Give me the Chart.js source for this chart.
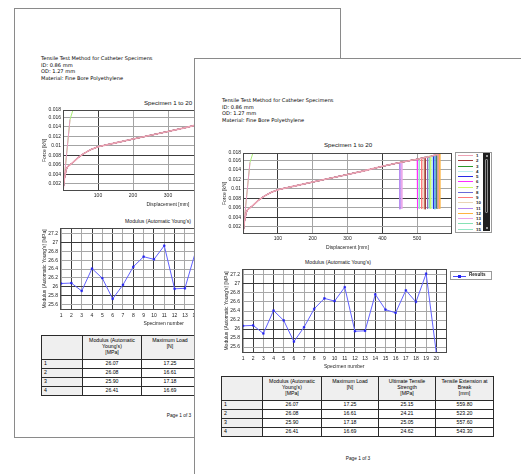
<!DOCTYPE html>
<html>
<head>
<meta charset="utf-8">
<title>Tensile Test Method for Catheter Specimens</title>
<script src="https://cdn.jsdelivr.net/npm/chart.js@4.4.1/dist/chart.umd.min.js"></script>
<style>
  html, body { margin: 0; padding: 0; }
  body { width: 521px; height: 474px; overflow: hidden; position: relative; background: #fff; }
  .page { position: absolute; box-sizing: border-box; background: #fff; border: 1px solid #8a8a8a; overflow: hidden; }
  #backPage { left: 14px; top: 8px; width: 327px; height: 430px; z-index: 1; }
  #frontPage { left: 194px; top: 58px; width: 340px; height: 430px; z-index: 2; }
  .abs { position: absolute; }
  .info { font: 5.1px/6.6px "DejaVu Sans", sans-serif; color: #000; white-space: nowrap; }
  .ctitle { font-family: "Liberation Sans", Arial, sans-serif; color: #111; white-space: nowrap; transform: translate(-50%, -50%); }
  .footer { font: 4.8px "Liberation Sans", Arial, sans-serif; color: #111; white-space: nowrap; transform: translate(-50%, -50%); }
  table.results { border-collapse: collapse; table-layout: fixed; width: 272px;
    font: 5.2px/5.8px "Liberation Sans", Arial, sans-serif; color: #000; }
  table.results td { border: 1px solid #2a2a2a; padding: 0 2px; height: 8px; text-align: center; vertical-align: middle; white-space: nowrap; }
  table.results tr.head td { height: 21px; background: #efefef; vertical-align: top; padding-top: 2px; }
  table.results td.rowName { text-align: left; background: #efefef; }
  .legendBox { border: 1px solid #9a9a9a; background: #fff; box-sizing: border-box; overflow: hidden; }
  .legendRow { position: absolute; left: 1px; height: 5.25px; font: bold 4.4px "Liberation Sans", Arial, sans-serif; color: #222; }
  .legendRow i { position: absolute; left: 1px; top: 2.2px; width: 15px; height: 1px; }
  .legendRow span { position: absolute; left: 19px; top: 0; line-height: 5.25px; }
  .scrollBar { position: absolute; background: #1f1f1f; }
  .scrollThumb { position: absolute; border: 1px solid #8c8c8c; border-radius: 1px; }
  .scrollArrow { position: absolute; width: 2px; height: 2px; background: #9a9a9a; }
</style>
</head>
<body>
<div class="page" id="backPage"></div>
<div class="page" id="frontPage"></div>

<script>
// ---- report header text
const reportInfo = [
  'Tensile Test Method for Catheter Specimens',
  'ID: 0.86 mm',
  'OD: 1.27 mm',
  'Material: Fine Bore Polyethylene',
];

// ---- specimens
const specimenLabels = ['1', '2', '3', '4', '5', '6', '7', '8', '9', '10',
  '11', '12', '13', '14', '15', '16', '17', '18', '19', '20'];

const specimenColors = ['#eea2b4', '#a23a3a', '#2a982a', '#b8eeee', '#2828e6', '#ff2cff',
  '#cdfa6a', '#6a6ad8', '#ff7a7a', '#ead4b6', '#b488f2', '#ffb440', '#eaa6ea',
  '#86e2b4', '#94e8c6', '#8a66c8', '#66c4e4', '#e8803c', '#ec98c4', '#a8ee74'];

// shared load / displacement curve (displacement mm, force kN)
const loadCurve = [
  [0, 0.0005], [4, 0.0031], [9, 0.0050], [13, 0.0056], [20, 0.0060], [30, 0.0066],
  [45, 0.0076], [60, 0.0084], [80, 0.0092], [100, 0.0098], [150, 0.0106], [200, 0.0114],
  [250, 0.0122], [300, 0.0130], [350, 0.0138], [400, 0.0147], [450, 0.0155],
  [500, 0.0162], [540, 0.0168],
];

// steep traces of specimens 19 and 20
const steepCurves = {
  19: [[0, 0.0005], [3, 0.0028], [20, 0.0155]],
  20: [[0, 0.0005], [3, 0.0028], [20, 0.0155], [28, 0.0174]],
};

// tensile extension at break [mm] and maximum load [N]
const breakExtension = [559.8, 523.2, 557.6, 543.3, 547, 501, 539, 555, 513, 520,
  450.5, 565, 456, 535, 506, 530, 551, 562, null, null];
const maximumLoad = [17.25, 16.61, 17.18, 16.69, 17.05, 16.30, 16.90, 17.15, 16.45, 16.55,
  15.60, 17.40, 15.70, 16.75, 16.35, 16.80, 16.85, 17.28, null, null];
const loadAfterBreak = [5.8, 5.7, 5.8, 5.9, 5.8, 5.7, 5.8, 5.9, 5.8, 5.7,
  5.7, 5.8, 5.8, 5.9, 5.8, 5.8, 5.7, 5.9, null, null];

// Modulus (Automatic Young's) [MPa]
const modulusValues = [26.07, 26.08, 25.90, 26.41, 26.19, 25.72, 26.04, 26.45, 26.68, 26.62,
  26.93, 25.95, 25.96, 26.77, 26.43, 26.36, 26.86, 26.60, 27.23, 25.47];

const ultimateStrength = [25.15, 24.21, 25.05, 24.62];

// ---- axis ticks
const forceXTicks = [100, 200, 300, 400, 500];
const forceYTicks = [0.002, 0.004, 0.006, 0.008, 0.01, 0.012, 0.014, 0.016, 0.0175];
const forceYLabels = ['0.002', '0.004', '0.006', '0.008', '0.01', '0.012', '0.014', '0.016', '0.018'];
const modulusYTicks = [25.6, 25.8, 26, 26.2, 26.4, 26.6, 26.8, 27, 27.2];
const modulusYLabels = ['25.6', '25.8', '26', '26.2', '26.4', '26.6', '26.8', '27', '27.2'];

const tableHeaders = ['', "Modulus (Automatic<br>Young's)<br>[MPa]", 'Maximum Load<br>[N]',
  'Ultimate Tensile<br>Strength<br>[MPa]', 'Tensile Extension at<br>Break<br>[mm]'];

Chart.defaults.font.family = '"Liberation Sans", Arial, sans-serif';
Chart.defaults.font.size = 5;
Chart.defaults.color = '#1e1e1e';

/**
 * box around the plotting area
 */
const plotFrame = {
  id: 'plotFrame',
  afterDraw(chart) {
    const { ctx, chartArea } = chart;
    const { left, top, right, bottom } = chartArea;
    ctx.save();
    ctx.strokeStyle = '#4a4a4a';
    ctx.lineWidth = 1;
    ctx.strokeRect(Math.round(left) + 0.5, Math.round(top) + 0.5,
      Math.round(right - left) - 1, Math.round(bottom - top) - 1);
    ctx.restore();
  },
};

const toPoints = (pairs) => pairs.map(([x, y]) => ({ x, y }));

function specimenData(i) {
  const id = i + 1;
  if (steepCurves[id]) return toPoints(steepCurves[id]);

  const bx = breakExtension[i];
  const pts = loadCurve.filter(([x]) => x < bx);
  pts.push([bx, maximumLoad[i] / 1000]);
  pts.push([bx, loadAfterBreak[i] / 1000]);
  return toPoints(pts);
}

function makeCanvas(page, origin, box) {
  const canvas = document.createElement('canvas');
  canvas.width = box.w;
  canvas.height = box.h;
  canvas.className = 'abs';
  canvas.style.left = box.x - origin.x + 'px';
  canvas.style.top = box.y - origin.y + 'px';
  canvas.style.width = box.w + 'px';
  canvas.style.height = box.h + 'px';
  page.appendChild(canvas);
  return canvas.getContext('2d');
}

function fixedWidth(w) {
  return (scale) => { scale.width = w; };
}
function fixedHeight(h) {
  return (scale) => { scale.height = h; };
}

function forceChart(ctx, yWidth, padRight) {
  return new Chart(ctx, {
    type: 'line',
    data: {
      datasets: specimenLabels.map((label, i) => ({
        label,
        data: specimenData(i),
        borderColor: specimenColors[i],
        // specimen 1 sits on top of the common curve
        borderWidth: i === 0 ? 1.6 : 1,
        pointRadius: 0,
        fill: false,
      })),
    },
    options: {
      responsive: false,
      animation: false,
      layout: { padding: { top: 5, right: padRight, left: 0, bottom: 0 } },
      plugins: { legend: { display: false }, tooltip: { enabled: false } },
      scales: {
        x: {
          type: 'linear', min: 0, max: 600,
          afterBuildTicks: (s) => { s.ticks = forceXTicks.map((value) => ({ value })); },
          afterFit: fixedHeight(17),
          ticks: { padding: 2, maxRotation: 0 },
          grid: {
            drawTicks: false,
            color: (c) => (c.tick && (c.tick.value === 100 || c.tick.value === 400) ? '#3c3c3c' : '#a4a4a4'),
          },
          border: { display: false },
          title: { display: true, text: 'Displacement [mm]', padding: 0, font: { size: 5 } },
        },
        y: {
          type: 'linear', min: 0.0005, max: 0.0175,
          afterBuildTicks: (s) => { s.ticks = forceYTicks.map((value) => ({ value })); },
          afterFit: fixedWidth(yWidth),
          ticks: { padding: 2, callback: (v, i) => forceYLabels[i] },
          grid: {
            drawTicks: false,
            color: (c) => (c.tick && (c.tick.value === 0.004 || c.tick.value === 0.008) ? '#3c3c3c' : '#a4a4a4'),
          },
          border: { display: false },
          title: { display: true, text: 'Force [kN]', padding: 0, font: { size: 5 } },
        },
      },
    },
    plugins: [plotFrame],
  });
}

function modulusChart(ctx, yWidth) {
  return new Chart(ctx, {
    type: 'line',
    data: {
      datasets: [{
        label: 'Results',
        data: modulusValues.map((y, i) => ({ x: Number(specimenLabels[i]), y })),
        borderColor: '#6262ff',
        borderWidth: 1,
        pointStyle: 'rect',
        pointRadius: 1.2,
        pointBorderWidth: 0.5,
        pointBackgroundColor: '#2323ee',
        pointBorderColor: '#2323ee',
        fill: false,
      }],
    },
    options: {
      responsive: false,
      animation: false,
      layout: { padding: { top: 5, right: 2, left: 0, bottom: 0 } },
      plugins: { legend: { display: false }, tooltip: { enabled: false } },
      scales: {
        x: {
          type: 'linear', min: 0.9, max: 21,
          afterBuildTicks: (s) => { s.ticks = specimenLabels.map((l) => ({ value: Number(l) })); },
          afterFit: fixedHeight(17),
          ticks: { padding: 3, maxRotation: 0, autoSkip: false },
          grid: {
            drawTicks: false,
            color: (c) => (c.tick && c.tick.value % 2 === 0 ? '#3c3c3c' : '#a8a8a8'),
          },
          border: { display: false },
          title: { display: true, text: 'Specimen number', padding: 0, font: { size: 5 } },
        },
        y: {
          type: 'linear', min: 25.467, max: 27.333,
          afterBuildTicks: (s) => { s.ticks = modulusYTicks.map((value) => ({ value })); },
          afterFit: fixedWidth(yWidth),
          ticks: { padding: 2, callback: (v, i) => modulusYLabels[i] },
          grid: {
            drawTicks: false,
            color: (c) => (c.tick && [27, 26, 25.8].includes(c.tick.value) ? '#3c3c3c' : '#a8a8a8'),
          },
          border: { display: false },
          title: { display: true, text: "Modulus (Automatic Young's) [MPa]", padding: 0, font: { size: 5 } },
        },
      },
    },
    plugins: [plotFrame],
  });
}

function addText(page, origin, cls, x, y, html, extraStyle) {
  const el = document.createElement('div');
  el.className = 'abs ' + cls;
  el.style.left = x - origin.x + 'px';
  el.style.top = y - origin.y + 'px';
  if (extraStyle) Object.assign(el.style, extraStyle);
  el.innerHTML = html;
  page.appendChild(el);
  return el;
}

function addTable(page, origin, x, y) {
  const widths = [41, 59, 57, 57, 58];
  let html = '<colgroup>' + widths.map((w) => `<col style="width:${w}px">`).join('') + '</colgroup>';
  html += '<tr class="head">' + tableHeaders.map((h) => `<td>${h}</td>`).join('') + '</tr>';
  ultimateStrength.forEach((uts, i) => {
    html += '<tr>'
      + `<td class="rowName">${specimenLabels[i]}</td>`
      + `<td>${modulusValues[i].toFixed(2)}</td>`
      + `<td>${maximumLoad[i].toFixed(2)}</td>`
      + `<td>${uts.toFixed(2)}</td>`
      + `<td>${breakExtension[i].toFixed(2)}</td>`
      + '</tr>';
  });
  const table = document.createElement('table');
  table.className = 'abs results';
  table.style.left = x - origin.x + 'px';
  table.style.top = y - origin.y + 'px';
  table.innerHTML = html;
  page.appendChild(table);
}

function addSpecimenLegend(page, origin, x, y, w, h) {
  const box = document.createElement('div');
  box.className = 'abs legendBox';
  Object.assign(box.style, { left: x - origin.x + 'px', top: y - origin.y + 'px', width: w + 'px', height: h + 'px' });

  specimenLabels.forEach((label, i) => {
    const row = document.createElement('div');
    row.className = 'legendRow';
    row.style.top = i * 5.25 + 'px';
    row.innerHTML = `<i style="background:${specimenColors[i]}"></i><span>${label}</span>`;
    box.appendChild(row);
  });

  // scroll bar of the legend list
  const bar = document.createElement('div');
  bar.className = 'scrollBar';
  Object.assign(bar.style, { left: w - 10 + 'px', top: '0px', width: '7px', height: h - 3 + 'px' });
  bar.innerHTML = '<div class="scrollArrow" style="left:2.5px;top:1.5px"></div>'
    + '<div class="scrollThumb" style="left:2px;top:6px;width:1px;height:52px"></div>'
    + `<div class="scrollArrow" style="left:2.5px;top:${h - 7}px"></div>`;
  box.appendChild(bar);
  page.appendChild(box);
}

function addResultsLegend(page, origin, x, y) {
  const box = document.createElement('div');
  box.className = 'abs legendBox';
  Object.assign(box.style, { left: x - origin.x + 'px', top: y - origin.y + 'px', width: '42px', height: '9px' });
  box.innerHTML = '<div style="position:absolute;left:2px;top:3.5px;width:13px;height:1px;background:#4a4aff"></div>'
    + '<div style="position:absolute;left:7px;top:2.5px;width:3px;height:3px;background:#2323ee"></div>'
    + '<div style="position:absolute;left:18px;top:0;line-height:7px;font:bold 4.6px \'Liberation Sans\',Arial,sans-serif;color:#222">Results</div>';
  page.appendChild(box);
}

function buildPage(page, origin, L) {
  addText(page, origin, 'info', L.infoX, L.infoY, reportInfo.join('<br>'));
  addText(page, origin, 'ctitle', L.forceTitle[0], L.forceTitle[1], 'Specimen 1 to 20', { fontSize: '6.2px' });
  forceChart(makeCanvas(page, origin, L.force), 21, 5);
  addText(page, origin, 'ctitle', L.modTitle[0], L.modTitle[1], "Modulus (Automatic Young's)", { fontSize: '5.1px' });
  modulusChart(makeCanvas(page, origin, L.modulus), 18);
  addTable(page, origin, L.table[0], L.table[1]);
  addText(page, origin, 'footer', L.footer[0], L.footer[1], 'Page 1 of 3');
  if (L.legend) addSpecimenLegend(page, origin, ...L.legend);
  if (L.results) addResultsLegend(page, origin, ...L.results);
}

// back page (partly covered)
buildPage(document.getElementById('backPage'), { x: 15, y: 9 }, {
  infoX: 41, infoY: 55,
  forceTitle: [168, 102],
  force: { x: 42, y: 105, w: 236, h: 103 },
  modTitle: [158, 221],
  modulus: { x: 42, y: 223, w: 230, h: 104 },
  table: [41, 335],
  footer: [179, 415],
});

// front page
buildPage(document.getElementById('frontPage'), { x: 195, y: 59 }, {
  infoX: 222, infoY: 97,
  forceTitle: [348, 144],
  force: { x: 222, y: 148, w: 235, h: 103 },
  modTitle: [338, 262],
  modulus: { x: 224, y: 264, w: 227, h: 106 },
  table: [221, 376],
  footer: [358, 458],
  legend: [455, 152, 37, 81],
  results: [450, 271],
});
</script>
</body>
</html>
